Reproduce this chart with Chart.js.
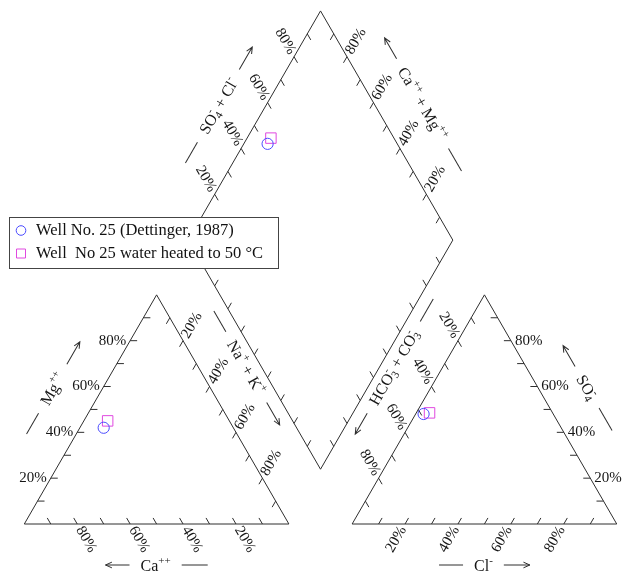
<!DOCTYPE html>
<html>
<head>
<meta charset="utf-8">
<script src="https://cdn.jsdelivr.net/npm/chart.js@4.4.1/dist/chart.umd.min.js"></script>
<style>
  html, body { margin: 0; padding: 0; background: #fff; }
  #wrap { width: 623px; height: 571px; }
</style>
</head>
<body>
<div id="wrap"><canvas id="piper" width="623" height="571"></canvas></div>
<script>
// Sample names (legend order)
const sampleNames = ['Well No. 25 (Dettinger, 1987)', 'Well  No 25 water heated to 50 \u00B0C'];

// Cations, percent of meq/L
const caPct  = [49.0, 46.0];
const mgPct  = [42.0, 45.0];
const nakPct = [9.0, 9.0];

// Anions, percent of meq/L
const hco3Pct = [49.0, 46.5];
const so4Pct  = [48.0, 48.5];
const clPct   = [3.0, 5.0];

// Tick marks every 10 %, labelled every 20 %
const tickPct  = [10, 20, 30, 40, 50, 60, 70, 80, 90];
const labelPct = [20, 40, 60, 80];

// ---- geometry in triangle-side units ----
const H = Math.sqrt(3) / 2;
const GAP = 0.239;
const G = {
  caC:  [0, 0],           nakC: [1, 0],          mgC:  [0.5, H],
  hcC:  [1 + GAP, 0],     clC:  [2 + GAP, 0],    so4C: [1.5 + GAP, H],
  dB: [1 + GAP / 2, GAP * H],
  dL: [0.5 + GAP / 2, GAP * H + H],
  dT: [1 + GAP / 2, GAP * H + 2 * H],
  dR: [1.5 + GAP / 2, GAP * H + H]
};
const SIDE_PX = 264.6, X0 = 24.3, Y0 = 524, W = 623, HT = 571;

function lerp(a, b, t) { return [a[0] + (b[0] - a[0]) * t, a[1] + (b[1] - a[1]) * t]; }
function mix3(w1, p1, w2, p2, w3, p3) {
  return { x: (w1 * p1[0] + w2 * p2[0] + w3 * p3[0]) / 100,
           y: (w1 * p1[1] + w2 * p2[1] + w3 * p3[1]) / 100 };
}
function cationPoint(i) { return mix3(caPct[i], G.caC, mgPct[i], G.mgC, nakPct[i], G.nakC); }
function anionPoint(i)  { return mix3(hco3Pct[i], G.hcC, so4Pct[i], G.so4C, clPct[i], G.clC); }
function diamondPoint(i) {
  const a = (so4Pct[i] + clPct[i]) / 100, n = nakPct[i] / 100;
  return { x: G.dL[0] + a * (G.dT[0] - G.dL[0]) + n * (G.dB[0] - G.dL[0]),
           y: G.dL[1] + a * (G.dT[1] - G.dL[1]) + n * (G.dB[1] - G.dL[1]) };
}
function samplePoints(i) { return [cationPoint(i), anionPoint(i), diamondPoint(i)]; }

// ---- axis definitions: value runs from `a` (0 %) to `b` (100 %) ----
const R3 = Math.sqrt(3) / 2;
const axes = [
  { a: G.caC, b: G.mgC,  inward: [1, 0],        labels: true, ang: 0,   align: 'right' }, // Mg
  { a: G.nakC, b: G.caC, inward: [-0.5, -R3],   labels: true, ang: 60,  align: 'left'  }, // Ca
  { a: G.mgC, b: G.nakC, inward: [-0.5, R3],    labels: true, ang: -60, align: 'left'  }, // Na+K
  { a: G.hcC, b: G.clC,  inward: [0.5, -R3],    labels: true, ang: -60, align: 'right' }, // Cl
  { a: G.clC, b: G.so4C, inward: [-1, 0],       labels: true, ang: 0,   align: 'left'  }, // SO4
  { a: G.so4C, b: G.hcC, inward: [0.5, R3],     labels: true, ang: 60,  align: 'right' }, // HCO3+CO3
  { a: G.dL, b: G.dT,    inward: [0.5, R3],     labels: true, ang: 60,  align: 'right' }, // SO4+Cl
  { a: G.dR, b: G.dT,    inward: [-0.5, R3],    labels: true, ang: -60, align: 'left'  }, // Ca+Mg
  { a: G.dL, b: G.dB,    inward: [0.5, -R3],    labels: false },                          // Na+K (diamond)
  { a: G.dR, b: G.dB,    inward: [-0.5, -R3],   labels: false }                           // HCO3 (diamond)
];

// ---- axis titles ----
const titles = [
  { a: G.caC, b: G.mgC,  t: 0.5,  n: 43, inside: G.nakC, ang: -60, pre: 'line',  post: 'arrow',
    parts: [{ t: 'Mg' }, { sup: '++' }] },
  { a: G.caC, b: G.nakC, t: 0.5,  n: 41, inside: G.mgC,  ang: 0,   pre: 'back',  post: 'line',
    parts: [{ t: 'Ca' }, { sup: '++' }] },
  { a: G.mgC, b: G.nakC, t: 0.41, n: 41.5, inside: G.caC, ang: 60, pre: 'line',  post: 'arrow',
    parts: [{ t: 'Na' }, { sup: '+' }, { t: ' + K' }, { sup: '+' }] },
  { a: G.hcC, b: G.clC,  t: 0.5,  n: 41, inside: G.so4C, ang: 0,   pre: 'line',  post: 'arrow',
    parts: [{ t: 'Cl' }, { sup: '-' }] },
  { a: G.so4C, b: G.clC, t: 0.5,  n: 42.7, inside: G.hcC, ang: 60, pre: 'back',  post: 'line',
    parts: [{ t: 'SO' }, { sub: '4', sup: '-' }] },
  { a: G.hcC, b: G.so4C, t: 0.595, n: 42.3, inside: G.clC, ang: -60, pre: 'back', post: 'line',
    parts: [{ t: 'HCO' }, { sub: '3', sup: '-' }, { t: ' + CO' }, { sub: '3', sup: '-' }] },
  { a: G.dL, b: G.dT,    t: 0.5,  n: 41, inside: G.dR,   ang: -60, pre: 'line',  post: 'arrow',
    parts: [{ t: 'SO' }, { sub: '4', sup: '-' }, { t: ' + Cl' }, { sup: '-' }] },
  { a: G.dT, b: G.dR,    t: 0.5,  n: 42, inside: G.dL,   ang: 60,  pre: 'back',  post: 'line',
    parts: [{ t: 'Ca' }, { sup: '++' }, { t: ' + Mg' }, { sup: '++' }] }
];

const FONT_FAMILY = '"Liberation Serif", "Times New Roman", serif';
const MAIN_FONT = '15px ' + FONT_FAMILY;
const TITLE_FONT = '16px ' + FONT_FAMILY;
const SMALL_FONT = '11px ' + FONT_FAMILY;
const LEGEND_FONT = '16.5px ' + FONT_FAMILY;
const INK = '#161616';
const LINE = '#2e2e2e';

function richWidth(ctx, parts) {
  let w = 0;
  for (const p of parts) {
    if (p.t !== undefined) { ctx.font = TITLE_FONT; w += ctx.measureText(p.t).width; }
    else {
      ctx.font = SMALL_FONT;
      w += Math.max(p.sup ? ctx.measureText(p.sup).width : 0, p.sub ? ctx.measureText(p.sub).width : 0);
    }
  }
  return w;
}
function drawRich(ctx, parts, x, base) {
  ctx.textAlign = 'left';
  ctx.textBaseline = 'alphabetic';
  for (const p of parts) {
    if (p.t !== undefined) {
      ctx.font = TITLE_FONT; ctx.fillText(p.t, x, base); x += ctx.measureText(p.t).width;
    } else {
      ctx.font = SMALL_FONT;
      let w = 0;
      if (p.sup) { ctx.fillText(p.sup, x, base - 7); w = Math.max(w, ctx.measureText(p.sup).width); }
      if (p.sub) { ctx.fillText(p.sub, x, base + 3); w = Math.max(w, ctx.measureText(p.sub).width); }
      x += w;
    }
  }
}
function arrow(ctx, x1, y1, x2, y2) {
  ctx.beginPath(); ctx.moveTo(x1, y1); ctx.lineTo(x2, y2);
  const a = Math.atan2(y2 - y1, x2 - x1), L = 7, s = 0.42;
  ctx.moveTo(x2 - L * Math.cos(a - s), y2 - L * Math.sin(a - s));
  ctx.lineTo(x2, y2);
  ctx.lineTo(x2 - L * Math.cos(a + s), y2 - L * Math.sin(a + s));
  ctx.stroke();
}

const piperFrame = {
  id: 'piperFrame',
  beforeDatasetsDraw(chart) {
    const ctx = chart.ctx, xs = chart.scales.x, ys = chart.scales.y;
    const px = p => [xs.getPixelForValue(p[0]), ys.getPixelForValue(p[1])];
    ctx.save();
    ctx.strokeStyle = LINE; ctx.lineWidth = 1; ctx.fillStyle = INK;

    // outlines
    const polys = [[G.caC, G.nakC, G.mgC], [G.hcC, G.clC, G.so4C], [G.dB, G.dR, G.dT, G.dL]];
    for (const poly of polys) {
      ctx.beginPath();
      poly.forEach((p, k) => { const q = px(p); k ? ctx.lineTo(q[0], q[1]) : ctx.moveTo(q[0], q[1]); });
      ctx.closePath(); ctx.stroke();
    }

    // ticks and percentage labels
    const TICK = 7, LGAP = 4;
    for (const ax of axes) {
      for (const v of tickPct) {
        const q = px(lerp(ax.a, ax.b, v / 100));
        ctx.beginPath(); ctx.moveTo(q[0], q[1]);
        ctx.lineTo(q[0] + ax.inward[0] * TICK, q[1] + ax.inward[1] * TICK); ctx.stroke();
        if (ax.labels && labelPct.includes(v)) {
          ctx.save();
          ctx.translate(q[0] - ax.inward[0] * LGAP, q[1] - ax.inward[1] * LGAP);
          ctx.rotate(ax.ang * Math.PI / 180);
          ctx.font = MAIN_FONT; ctx.textAlign = ax.align; ctx.textBaseline = 'middle';
          ctx.fillText(v + '%', 0, 0);
          ctx.restore();
        }
      }
    }

    // axis titles with direction arrows
    const GAPT = 11, PRE = 24, POST = 26;
    for (const ti of titles) {
      const a = px(ti.a), b = px(ti.b), c = px(lerp(ti.a, ti.b, 0.5)), ins = px(ti.inside);
      const m = [a[0] + (b[0] - a[0]) * ti.t, a[1] + (b[1] - a[1]) * ti.t];
      const len = Math.hypot(b[0] - a[0], b[1] - a[1]);
      let nx = -(b[1] - a[1]) / len, ny = (b[0] - a[0]) / len;
      if ((ins[0] - c[0]) * nx + (ins[1] - c[1]) * ny > 0) { nx = -nx; ny = -ny; }
      const cx = m[0] + nx * ti.n, cy = m[1] + ny * ti.n;
      ctx.save();
      ctx.translate(cx, cy);
      ctx.rotate(ti.ang * Math.PI / 180);
      const w = richWidth(ctx, ti.parts);
      const total = PRE + GAPT + w + GAPT + POST;
      let x = -total / 2;
      if (ti.pre === 'line') { ctx.beginPath(); ctx.moveTo(x, 0); ctx.lineTo(x + PRE, 0); ctx.stroke(); }
      else { arrow(ctx, x + PRE, 0, x, 0); }
      x += PRE + GAPT;
      drawRich(ctx, ti.parts, x, 5.5);
      x += w + GAPT;
      if (ti.post === 'arrow') { arrow(ctx, x, 0, x + POST, 0); }
      else { ctx.beginPath(); ctx.moveTo(x, 0); ctx.lineTo(x + POST, 0); ctx.stroke(); }
      ctx.restore();
    }
    ctx.restore();
  },
  afterDatasetsDraw(chart) {
    // legend box
    const ctx = chart.ctx;
    ctx.save();
    ctx.fillStyle = '#fff'; ctx.strokeStyle = '#444'; ctx.lineWidth = 1;
    ctx.fillRect(9.5, 217.5, 269, 51); ctx.strokeRect(9.5, 217.5, 269, 51);
    const ds = chart.data.datasets;
    const rows = [230.5, 253.5];
    ds.forEach((d, k) => {
      const y = rows[k];
      ctx.strokeStyle = d.borderColor; ctx.lineWidth = 1;
      ctx.beginPath();
      if (d.pointStyle === 'circle') ctx.arc(21, y, 4.8, 0, Math.PI * 2);
      else ctx.rect(16.5, y - 4.5, 9, 9);
      ctx.stroke();
      ctx.fillStyle = '#111'; ctx.font = LEGEND_FONT; ctx.textAlign = 'left'; ctx.textBaseline = 'middle';
      ctx.fillText(d.label, 36, y + 0.5);
    });
    ctx.restore();
  }
};

new Chart(document.getElementById('piper'), {
  type: 'scatter',
  data: {
    datasets: [
      { label: sampleNames[0], data: samplePoints(0), pointStyle: 'circle', pointRadius: 5.6,
        borderColor: '#4b4bff', backgroundColor: 'rgba(0,0,0,0)', borderWidth: 1 },
      { label: sampleNames[1], data: samplePoints(1), pointStyle: 'rect', pointRadius: 7.4,
        borderColor: '#e048e0', backgroundColor: 'rgba(0,0,0,0)', borderWidth: 1 }
    ]
  },
  options: {
    responsive: false,
    animation: false,
    events: [],
    layout: { padding: 0, autoPadding: false },
    plugins: { legend: { display: false }, tooltip: { enabled: false }, title: { display: false } },
    scales: {
      x: { type: 'linear', display: false, min: -X0 / SIDE_PX, max: (W - X0) / SIDE_PX },
      y: { type: 'linear', display: false, min: -(HT - Y0) / SIDE_PX, max: Y0 / SIDE_PX }
    }
  },
  plugins: [piperFrame]
});
</script>
</body>
</html>
